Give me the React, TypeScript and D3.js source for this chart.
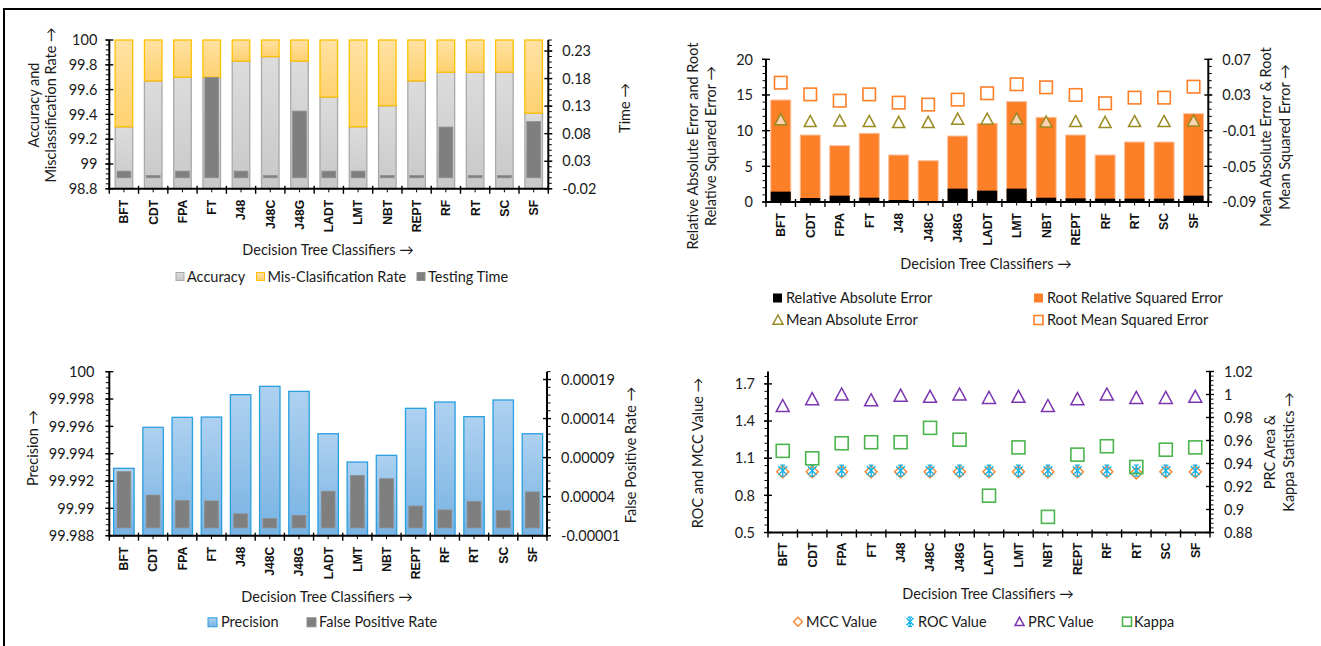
import React from 'react';
import * as d3 from 'd3';

const classifiers = ['BFT', 'CDT', 'FPA', 'FT', 'J48', 'J48C', 'J48G', 'LADT', 'LMT', 'NBT', 'REPT', 'RF', 'RT', 'SC', 'SF'];

// panel 1: accuracy / misclassification (stacked, %) and testing time (s)
const accuracy = [99.3, 99.67, 99.7, 99.7, 99.83, 99.866, 99.83, 99.54, 99.3, 99.47, 99.67, 99.74, 99.74, 99.74, 99.41];
const misRate = [0.7, 0.33, 0.3, 0.3, 0.17, 0.134, 0.17, 0.46, 0.7, 0.53, 0.33, 0.26, 0.26, 0.26, 0.59];
const testingTime = [0.012, 0.004, 0.012, 0.182, 0.012, 0.004, 0.121, 0.012, 0.012, 0.004, 0.004, 0.092, 0.004, 0.004, 0.102];

// panel 2: errors
const rae = [1.45, 0.56, 0.89, 0.6, 0.28, 0.14, 1.87, 1.59, 1.87, 0.6, 0.51, 0.47, 0.47, 0.47, 0.89];
const rrse = [14.3, 9.39, 7.9, 9.63, 6.59, 5.79, 9.25, 11.03, 14.07, 11.87, 9.39, 6.59, 8.41, 8.41, 12.38];
const mae = [0.0023, 0.0003, 0.001, 0.0003, -0.0008, -0.0008, 0.0029, 0.0029, 0.0033, -0.0003, 0.0003, -0.0008, 0.0003, 0.0003, 0.001];
const rmse = [0.0438, 0.0307, 0.0236, 0.0307, 0.0214, 0.0192, 0.0248, 0.0319, 0.042, 0.0386, 0.03, 0.0207, 0.027, 0.027, 0.0393];

// panel 3: precision and false positive rate
const precision = [99.99293, 99.99593, 99.99666, 99.99668, 99.99832, 99.99893, 99.99856, 99.99546, 99.99339, 99.99388, 99.99732, 99.99778, 99.99671, 99.99793, 99.99546];
const fpr = [0.000072, 0.000042, 0.000035, 0.0000345, 0.000018, 0.000012, 0.000016, 0.000047, 0.000067, 0.000063, 0.000028, 0.000023, 0.000034, 0.000022, 0.000046];

// panel 4: MCC, ROC, PRC, Kappa
const mcc = [0.99, 0.99, 0.99, 0.99, 0.99, 0.99, 0.99, 0.99, 0.99, 0.99, 0.99, 0.99, 0.98, 0.99, 0.99];
const roc = [1, 1, 1, 1, 1, 1, 1, 1, 1, 1, 1, 1, 1, 1, 1];
const prc = [0.99, 0.996, 1.0, 0.995, 0.999, 0.998, 1.0, 0.997, 0.998, 0.99, 0.996, 1.0, 0.997, 0.997, 0.998];
const kappa = [0.951, 0.9445, 0.9576, 0.9585, 0.9585, 0.971, 0.9607, 0.912, 0.954, 0.8936, 0.9477, 0.955, 0.937, 0.952, 0.954];

const FONT = 'Lato, "Open Sans", sans-serif';
const BOLD = '"Liberation Sans", Arial, sans-serif';
const TXT = '#1a1a1a';

const ORANGE = '#fd7f28';
const MCC_C = '#f5852f';
const ROC_C = '#15b2ea';
const PRC_C = '#7b35b0';
const KAPPA_C = '#4db44d';
const MAE_C = '#9a8a22';

function ticksFrom(min: number, max: number, step: number) {
  const n = Math.floor((max - min) / step + 1e-6);
  return d3.range(0, n + 1).map(k => +(min + k * step).toFixed(8));
}
const fmt = (v: number) => String(+v.toFixed(6));

type Lin = d3.ScaleLinear<number, number>;

function ValueAxis({ scale, x, side, step, gap }: { scale: Lin, x: number, side: 'left' | 'right', step: number, gap: number }) {
  const [min, max] = scale.domain();
  const [y0, y1] = scale.range();
  const dir = side === 'left' ? -1 : 1;
  return (
    <g>
      {ticksFrom(min, max, step / 5).map(v => (
        <line key={'m' + v} x1={x} x2={x + dir * 3.5} y1={scale(v)} y2={scale(v)} stroke="#000" strokeWidth={1} />
      ))}
      {ticksFrom(min, max, step).map(v => (
        <g key={v}>
          <line x1={x - 4} x2={x + 4} y1={scale(v)} y2={scale(v)} stroke="#000" strokeWidth={1.4} />
          <text x={x + dir * gap} y={scale(v)} dy="0.36em" textAnchor={side === 'left' ? 'end' : 'start'}
            fontSize={14.5} fontFamily={FONT} fill={TXT}>{fmt(v)}</text>
        </g>
      ))}
      <line x1={x} x2={x} y1={y0 + 1} y2={y1} stroke="#000" strokeWidth={2} />
    </g>
  );
}

function CategoryAxis({ x, y, labelGap }: { x: d3.ScaleBand<string>, y: number, labelGap: number }) {
  const bw = x.bandwidth();
  const [x0, x1] = x.range();
  return (
    <g>
      <line x1={x0} x2={x1} y1={y} y2={y} stroke="#000" strokeWidth={2} />
      {classifiers.map(c => {
        const bx = x(c)!;
        const cx = bx + bw / 2;
        return (
          <g key={c}>
            <line x1={bx} x2={bx} y1={y - 3} y2={y + 5} stroke="#000" strokeWidth={1.4} />
            <line x1={cx} x2={cx} y1={y} y2={y + 3.5} stroke="#000" strokeWidth={1} />
            <text transform={`translate(${cx},${y + labelGap}) rotate(-90)`} textAnchor="end" dy="0.36em"
              fontSize={12.2} fontWeight="bold" fontFamily={BOLD} fill="#111">{c}</text>
          </g>
        );
      })}
      <line x1={x1} x2={x1} y1={y - 3} y2={y + 5} stroke="#000" strokeWidth={1.4} />
    </g>
  );
}

function VTitle({ x, y, text }: { x: number, y: number, text: string }) {
  return (
    <text transform={`translate(${x},${y}) rotate(-90)`} textAnchor="middle" dy="0.35em"
      fontSize={14.5} fontFamily={FONT} fill={TXT}>{text}</text>
  );
}

function HText({ x, y, text, anchor = 'start' }: { x: number, y: number, text: string, anchor?: string }) {
  return (
    <text x={x} y={y} dy="0.35em" textAnchor={anchor} fontSize={14.5} fontFamily={FONT} fill={TXT}>{text}</text>
  );
}

function Square({ cx, cy, color, s = 13 }: { cx: number, cy: number, color: string, s?: number }) {
  return <rect x={cx - s / 2} y={cy - s / 2} width={s} height={s} fill="none" stroke={color} strokeWidth={1.6} />;
}
function Triangle({ cx, cy, color, s = 13, fill = 'none' }: { cx: number, cy: number, color: string, s?: number, fill?: string }) {
  const h = s / 2;
  return <path d={`M${cx},${cy - h}L${cx + h},${cy + h * 0.85}L${cx - h},${cy + h * 0.85}Z`} fill={fill} stroke={color} strokeWidth={1.5} />;
}
function Diamond({ cx, cy, color, s = 12 }: { cx: number, cy: number, color: string, s?: number }) {
  const h = s / 2;
  return <path d={`M${cx},${cy - h}L${cx + h},${cy}L${cx},${cy + h}L${cx - h},${cy}Z`} fill="none" stroke={color} strokeWidth={1.4} />;
}
function Asterisk({ cx, cy, color, s = 12 }: { cx: number, cy: number, color: string, s?: number }) {
  const h = s / 2;
  const d = `M${cx},${cy - h}V${cy + h}M${cx - h * 0.8},${cy - h * 0.8}L${cx + h * 0.8},${cy + h * 0.8}M${cx + h * 0.8},${cy - h * 0.8}L${cx - h * 0.8},${cy + h * 0.8}` +
    `M${cx - h * 0.45},${cy - h}H${cx + h * 0.45}M${cx - h * 0.45},${cy + h}H${cx + h * 0.45}`;
  return <path d={d} fill="none" stroke={color} strokeWidth={1.4} />;
}

function Panel1() {
  const x = d3.scaleBand().domain(classifiers).range([109.3, 548.3]);
  const yL = d3.scaleLinear().domain([98.8, 100]).range([188.8, 40]);
  const yR = d3.scaleLinear().domain([-0.02, 0.25]).range([188.8, 40]);
  const bw = x.bandwidth();
  const w1 = bw * 0.6;
  const w2 = bw * 0.47;
  return (
    <g>
      {classifiers.map((c, i) => {
        const cx = x(c)! + bw / 2;
        const top = accuracy[i] + misRate[i];
        return (
          <g key={c}>
            <rect x={cx - w1 / 2} y={yL(accuracy[i])} width={w1} height={yL(98.8) - yL(accuracy[i])}
              fill="url(#gGray)" stroke="#a9a9a9" strokeWidth={1.3} />
            <rect x={cx - w1 / 2} y={yL(top)} width={w1} height={yL(accuracy[i]) - yL(top)}
              fill="url(#gGold)" stroke="#ffc000" strokeWidth={1.3} />
            <rect x={cx - w2 / 2} y={yR(testingTime[i])} width={w2} height={yR(0) - yR(testingTime[i])}
              fill="#7f7f7f" stroke="#8e8e8e" strokeWidth={0.8} />
          </g>
        );
      })}
      <ValueAxis scale={yL} x={109.3} side="left" step={0.2} gap={12} />
      <ValueAxis scale={yR} x={548.3} side="right" step={0.05} gap={14} />
      <CategoryAxis x={x} y={188.8} labelGap={11} />
      <VTitle x={34} y={105} text="Accuracy and" />
      <VTitle x={51} y={105} text="Misclassification Rate →" />
      <VTitle x={625} y={108} text="Time →" />
      <HText x={328} y={250} text="Decision Tree Classifiers →" anchor="middle" />
      <rect x={176} y={272.5} width={8} height={8} fill="url(#gGray)" stroke="#a9a9a9" />
      <HText x={187} y={276.7} text="Accuracy" />
      <rect x={256.5} y={272.5} width={8} height={8} fill="url(#gGold)" stroke="#ffc000" />
      <HText x={267.5} y={276.7} text="Mis-Clasification Rate" />
      <rect x={417} y={272.5} width={8} height={8} fill="#7f7f7f" stroke="#8e8e8e" />
      <HText x={428} y={276.7} text="Testing Time" />
    </g>
  );
}

function Panel2() {
  const x = d3.scaleBand().domain(classifiers).range([766, 1208.3]);
  const yL = d3.scaleLinear().domain([0, 20]).range([202, 59.3]);
  const yR = d3.scaleLinear().domain([-0.09, 0.07]).range([202, 59.3]);
  const bw = x.bandwidth();
  const w = bw * 0.68;
  return (
    <g>
      {classifiers.map((c, i) => {
        const cx = x(c)! + bw / 2;
        return (
          <g key={c}>
            <rect x={cx - w / 2} y={yL(rrse[i])} width={w} height={yL(0) - yL(rrse[i])} fill={ORANGE} stroke="#fbc3a0" strokeWidth={1} />
            <rect x={cx - w / 2} y={yL(rae[i])} width={w} height={yL(0) - yL(rae[i])} fill="#000" />
          </g>
        );
      })}
      {classifiers.map((c, i) => {
        const cx = x(c)! + bw / 2;
        return (
          <g key={'mk' + c}>
            <Triangle cx={cx} cy={yR(mae[i])} color={MAE_C} s={12} fill="rgba(255,255,255,0.65)" />
            <Square cx={cx} cy={yR(rmse[i])} color={ORANGE} s={12.5} />
          </g>
        );
      })}
      <ValueAxis scale={yL} x={766} side="left" step={5} gap={13} />
      <ValueAxis scale={yR} x={1208.3} side="right" step={0.04} gap={14} />
      <CategoryAxis x={x} y={202} labelGap={11} />
      <VTitle x={693} y={146} text="Relative Absolute Error and Root" />
      <VTitle x={711} y={146} text="Relative Squared Error →" />
      <VTitle x={1266} y={137} text="Mean Absolute Error & Root" />
      <VTitle x={1285} y={137} text="Mean Squared Error →" />
      <HText x={986} y={264} text="Decision Tree Classifiers →" anchor="middle" />
      <rect x={773} y={293.5} width={9} height={9} fill="#000" />
      <HText x={786} y={297.7} text="Relative Absolute Error" />
      <rect x={1034} y={293.5} width={9} height={9} fill={ORANGE} />
      <HText x={1047} y={297.7} text="Root Relative Squared Error" />
      <Triangle cx={778} cy={320} color={MAE_C} s={10} />
      <HText x={786} y={320} text="Mean Absolute Error" />
      <Square cx={1038.5} cy={320} color={ORANGE} s={9} />
      <HText x={1047} y={320} text="Root Mean Squared Error" />
    </g>
  );
}

function Panel3() {
  const x = d3.scaleBand().domain(classifiers).range([109.3, 547]);
  const yL = d3.scaleLinear().domain([99.988, 100]).range([535.7, 371.7]);
  const yR = d3.scaleLinear().domain([-0.00001, 0.0002]).range([535.7, 371.7]);
  const bw = x.bandwidth();
  const w1 = bw * 0.7;
  const w2 = bw * 0.47;
  return (
    <g>
      {classifiers.map((c, i) => {
        const cx = x(c)! + bw / 2;
        return (
          <g key={c}>
            <rect x={cx - w1 / 2} y={yL(precision[i])} width={w1} height={yL(99.988) - yL(precision[i])}
              fill="url(#gBlue)" stroke="#2a9fe0" strokeWidth={1.3} />
            <rect x={cx - w2 / 2} y={yR(fpr[i])} width={w2} height={yR(0) - yR(fpr[i])}
              fill="#7f7f7f" stroke="#8e8e8e" strokeWidth={0.8} />
          </g>
        );
      })}
      <ValueAxis scale={yL} x={109.3} side="left" step={0.002} gap={15} />
      <ValueAxis scale={yR} x={547} side="right" step={0.00005} gap={14} />
      <CategoryAxis x={x} y={535.7} labelGap={11} />
      <VTitle x={33} y={448} text="Precision →" />
      <VTitle x={631} y={455} text="False Positive Rate →" />
      <HText x={327} y={597} text="Decision Tree Classifiers →" anchor="middle" />
      <rect x={208} y={617.8} width={9} height={9} fill="url(#gBlue)" stroke="#2a9fe0" />
      <HText x={221} y={622.3} text="Precision" />
      <rect x={307} y={617.8} width={9} height={9} fill="#7f7f7f" stroke="#8e8e8e" />
      <HText x={319} y={622.3} text="False Positive Rate" />
    </g>
  );
}

function Panel4() {
  const x = d3.scaleBand().domain(classifiers).range([768, 1210]);
  const yL = d3.scaleLinear().domain([0.5, 1.8]).range([532.5, 371.5]);
  const yR = d3.scaleLinear().domain([0.88, 1.02]).range([532.5, 371.5]);
  const bw = x.bandwidth();
  return (
    <g>
      {classifiers.map((c, i) => {
        const cx = x(c)! + bw / 2;
        return (
          <g key={c}>
            <Diamond cx={cx} cy={yL(mcc[i])} color={MCC_C} s={12} />
            <Asterisk cx={cx} cy={yL(roc[i])} color={ROC_C} s={11} />
            <Triangle cx={cx} cy={yR(prc[i])} color={PRC_C} s={13} />
            <Square cx={cx} cy={yR(kappa[i])} color={KAPPA_C} s={13} />
          </g>
        );
      })}
      <ValueAxis scale={yL} x={768} side="left" step={0.3} gap={13} />
      <ValueAxis scale={yR} x={1210} side="right" step={0.02} gap={14} />
      <CategoryAxis x={x} y={532.5} labelGap={10} />
      <VTitle x={698} y={453} text="ROC and MCC Value →" />
      <VTitle x={1270} y={452} text="PRC Area &" />
      <VTitle x={1289} y={452} text="Kappa Statistics →" />
      <HText x={988} y={594} text="Decision Tree Classifiers →" anchor="middle" />
      <Diamond cx={798} cy={621.7} color={MCC_C} s={9} />
      <HText x={806} y={621.7} text="MCC Value" />
      <Asterisk cx={910} cy={621.7} color={ROC_C} s={9} />
      <HText x={918} y={621.7} text="ROC Value" />
      <Triangle cx={1019.5} cy={621.7} color={PRC_C} s={9} />
      <HText x={1028} y={621.7} text="PRC Value" />
      <Square cx={1127} cy={621.7} color={KAPPA_C} s={9} />
      <HText x={1134} y={621.7} text="Kappa" />
    </g>
  );
}

export default function App() {
  return (
    <svg width={1321} height={646} viewBox="0 0 1321 646" style={{ position: 'absolute', left: 0, top: 0, background: '#fff' }}>
      <defs>
        <linearGradient id="gGray" x1="0" x2="0" y1="0" y2="1">
          <stop offset="0" stopColor="#dcdcdc" />
          <stop offset="1" stopColor="#c8c8c8" />
        </linearGradient>
        <linearGradient id="gGold" x1="0" x2="0" y1="0" y2="1">
          <stop offset="0" stopColor="#ffe2a3" />
          <stop offset="1" stopColor="#ffd170" />
        </linearGradient>
        <linearGradient id="gBlue" x1="0" x2="0" y1="0" y2="1">
          <stop offset="0" stopColor="#aed1f0" />
          <stop offset="1" stopColor="#78b3e3" />
        </linearGradient>
      </defs>
      <rect x={0} y={0} width={1321} height={646} fill="#fff" />
      <line x1={4} x2={1321} y1={9} y2={9} stroke="#000" strokeWidth={2} />
      <line x1={4} x2={4} y1={8} y2={646} stroke="#000" strokeWidth={2} />
      <Panel1 />
      <Panel2 />
      <Panel3 />
      <Panel4 />
    </svg>
  );
}
